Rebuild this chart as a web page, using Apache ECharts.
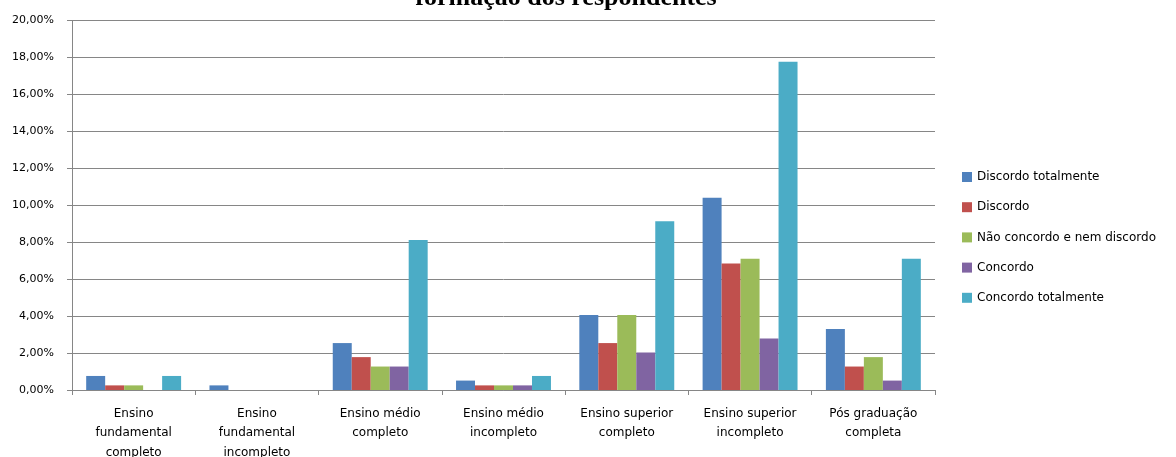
<!DOCTYPE html>
<html>
<head>
<meta charset="utf-8">
<script src="https://cdn.jsdelivr.net/npm/echarts@6/dist/echarts.min.js"></script>
<style>
  html, body { margin: 0; padding: 0; background: #fff; }
  #chart { width: 1176px; height: 457px; }
</style>
</head>
<body>
<div id="chart"></div>
<script>
// Respondents' schooling level and agreement answers (% of all respondents)
const categories = [
  'Ensino\nfundamental\ncompleto',
  'Ensino\nfundamental\nincompleto',
  'Ensino médio\ncompleto',
  'Ensino médio\nincompleto',
  'Ensino superior\ncompleto',
  'Ensino superior\nincompleto',
  'Pós graduação\ncompleta'
];
const seriesNames = [
  'Discordo totalmente',
  'Discordo',
  'Não concordo e nem discordo',
  'Concordo',
  'Concordo totalmente'
];
const discordoTotalmente = [0.76, 0.25, 2.54, 0.51, 4.06, 10.41, 3.30];
const discordo           = [0.25, 0.00, 1.78, 0.25, 2.54, 6.85, 1.27];
const naoConcordoNem     = [0.25, 0.00, 1.27, 0.25, 4.06, 7.11, 1.78];
const concordo           = [0.00, 0.00, 1.27, 0.25, 2.03, 2.79, 0.51];
const concordoTotalmente = [0.76, 0.00, 8.12, 0.76, 9.14, 17.77, 7.11];
const yTicks = [0, 2, 4, 6, 8, 10, 12, 14, 16, 18, 20];

const colors = ['#4F81BD', '#C0504D', '#9BBB59', '#8064A2', '#4BACC6'];
const values = [discordoTotalmente, discordo, naoConcordoNem, concordo, concordoTotalmente];

const fmt = v => v.toFixed(2).replace('.', ',') + '%';

const chart = echarts.init(document.getElementById('chart'), null, { renderer: 'canvas' });
chart.setOption({
  animation: false,
  color: colors,
  textStyle: { fontFamily: 'DejaVu Sans' },
  graphic: [{
    type: 'text',
    style: {
      x: 566,
      y: -14.5,
      text: 'formação dos respondentes',
      font: 'bold 26px "Liberation Serif"',
      fill: '#000',
      textAlign: 'center',
      textVerticalAlign: 'top'
    }
  }],
  grid: {
    left: 72, right: 241, top: 20.5, bottom: 67,
    containLabel: false,
    outerBoundsMode: 'none'
  },
  legend: {
    orient: 'vertical',
    left: 962,
    top: 170,
    padding: 0,
    icon: 'rect',
    itemWidth: 10,
    itemHeight: 10,
    itemGap: 16.2,
    textStyle: { fontSize: 12, lineHeight: 14, color: '#000', fontFamily: 'DejaVu Sans' },
    data: seriesNames
  },
  xAxis: {
    type: 'category',
    data: categories,
    axisLine: { lineStyle: { color: '#868686', width: 1 } },
    axisTick: { show: true, length: 5, alignWithLabel: false, lineStyle: { color: '#868686' } },
    axisLabel: {
      interval: 0,
      margin: 14,
      fontSize: 12,
      lineHeight: 19.5,
      color: '#000',
      fontFamily: 'DejaVu Sans'
    }
  },
  yAxis: {
    type: 'value',
    min: yTicks[0],
    max: yTicks[yTicks.length - 1],
    interval: 2,
    axisLine: { show: true, lineStyle: { color: '#868686', width: 1 } },
    axisTick: { show: true, length: 5, lineStyle: { color: '#868686' } },
    splitLine: { lineStyle: { color: '#868686', width: 1 } },
    axisLabel: {
      margin: 18,
      fontSize: 11,
      color: '#000',
      fontFamily: 'DejaVu Sans',
      formatter: fmt
    }
  },
  series: seriesNames.map((name, i) => ({
    name,
    type: 'bar',
    data: values[i],
    barGap: '0%',
    barCategoryGap: '23%',
    itemStyle: { color: colors[i] }
  }))
});
</script>
</body>
</html>
